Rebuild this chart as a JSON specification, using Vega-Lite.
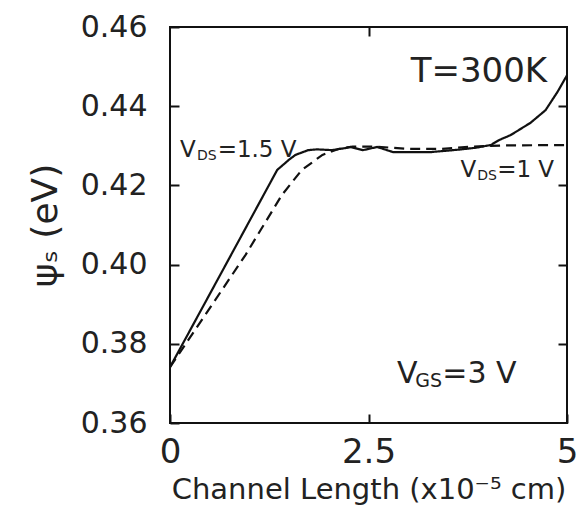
{
  "$schema": "https://vega.github.io/schema/vega-lite/v6.json",
  "autosize": {"type": "none"},
  "padding": {"left": 170, "top": 27, "right": 13, "bottom": 87},
  "width": 397,
  "height": 396,
  "background": "white",
  "config": {
    "font": "DejaVu Sans",
    "view": {"stroke": "#111", "strokeWidth": 2},
    "axis": {
      "grid": false,
      "domain": false,
      "ticks": true,
      "tickColor": "#111",
      "tickOpacity": 1,
      "tickWidth": 2,
      "tickSize": 9,
      "offset": -9,
      "labelColor": "#222",
      "titleColor": "#222",
      "labelFont": "DejaVu Sans",
      "titleFont": "DejaVu Sans",
      "titleFontWeight": "normal"
    }
  },
  "datasets": {
    "curves": [
      {"x": 0, "y": 0.3741, "s": "VDS=1.5 V"},
      {"x": 0.73, "y": 0.401, "s": "VDS=1.5 V"},
      {"x": 1.35, "y": 0.4239, "s": "VDS=1.5 V"},
      {"x": 1.5, "y": 0.4265, "s": "VDS=1.5 V"},
      {"x": 1.58, "y": 0.4277, "s": "VDS=1.5 V"},
      {"x": 1.74, "y": 0.4289, "s": "VDS=1.5 V"},
      {"x": 1.85, "y": 0.4291, "s": "VDS=1.5 V"},
      {"x": 2.04, "y": 0.4289, "s": "VDS=1.5 V"},
      {"x": 2.2, "y": 0.4294, "s": "VDS=1.5 V"},
      {"x": 2.27, "y": 0.4297, "s": "VDS=1.5 V"},
      {"x": 2.43, "y": 0.4289, "s": "VDS=1.5 V"},
      {"x": 2.61, "y": 0.4297, "s": "VDS=1.5 V"},
      {"x": 2.81, "y": 0.4284, "s": "VDS=1.5 V"},
      {"x": 3.0, "y": 0.4284, "s": "VDS=1.5 V"},
      {"x": 3.28, "y": 0.4284, "s": "VDS=1.5 V"},
      {"x": 3.62, "y": 0.429, "s": "VDS=1.5 V"},
      {"x": 3.85, "y": 0.4295, "s": "VDS=1.5 V"},
      {"x": 4.04, "y": 0.4302, "s": "VDS=1.5 V"},
      {"x": 4.15, "y": 0.4315, "s": "VDS=1.5 V"},
      {"x": 4.29, "y": 0.4327, "s": "VDS=1.5 V"},
      {"x": 4.54, "y": 0.4358, "s": "VDS=1.5 V"},
      {"x": 4.73, "y": 0.439, "s": "VDS=1.5 V"},
      {"x": 4.88, "y": 0.4436, "s": "VDS=1.5 V"},
      {"x": 5.0, "y": 0.4478, "s": "VDS=1.5 V"},
      {"x": 0, "y": 0.3741, "s": "VDS=1 V"},
      {"x": 0.95, "y": 0.4024, "s": "VDS=1 V"},
      {"x": 1.41, "y": 0.4176, "s": "VDS=1 V"},
      {"x": 1.66, "y": 0.4239, "s": "VDS=1 V"},
      {"x": 1.92, "y": 0.4277, "s": "VDS=1 V"},
      {"x": 2.12, "y": 0.4292, "s": "VDS=1 V"},
      {"x": 2.3, "y": 0.4298, "s": "VDS=1 V"},
      {"x": 2.6, "y": 0.4298, "s": "VDS=1 V"},
      {"x": 3.0, "y": 0.4292, "s": "VDS=1 V"},
      {"x": 3.4, "y": 0.4292, "s": "VDS=1 V"},
      {"x": 3.8, "y": 0.4298, "s": "VDS=1 V"},
      {"x": 4.2, "y": 0.4301, "s": "VDS=1 V"},
      {"x": 5.0, "y": 0.4302, "s": "VDS=1 V"}
    ]
  },
  "layer": [
    {
      "data": {"name": "curves"},
      "mark": {"type": "line", "color": "#111", "strokeWidth": 2.2, "clip": true},
      "encoding": {
        "x": {
          "field": "x", "type": "quantitative",
          "scale": {"domain": [0, 5], "nice": false, "zero": false},
          "axis": {
            "orient": "bottom",
            "values": [0, 2.5, 5],
            "format": ".2~g",
            "labelFontSize": 34,
            "labelPadding": 12,
            "labelFlush": false,
            "labelBound": false,
            "labelOverlap": false,
            "title": "Channel Length (x10⁻⁵ cm)",
            "titleFontSize": 29,
            "titlePadding": 6
          }
        },
        "y": {
          "field": "y", "type": "quantitative",
          "scale": {"domain": [0.36, 0.46], "nice": false, "zero": false},
          "axis": {
            "orient": "left",
            "values": [0.36, 0.38, 0.40, 0.42, 0.44, 0.46],
            "format": ".2f",
            "labelFontSize": 30,
            "labelPadding": 23,
            "labelFlush": false,
            "labelBound": false,
            "labelOverlap": false,
            "title": "ψₛ (eV)",
            "titleFontSize": 36,
            "titlePadding": 16
          }
        },
        "strokeDash": {
          "field": "s", "type": "nominal",
          "scale": {"domain": ["VDS=1.5 V", "VDS=1 V"], "range": [[1, 0], [10, 6]]},
          "legend": null
        }
      }
    },
    {
      "data": {"values": [{"x": 4.75, "y": 0.4461, "t": "T=300K"}]},
      "mark": {"type": "text", "align": "right", "baseline": "alphabetic", "fontSize": 34, "color": "#222"},
      "encoding": {
        "x": {
          "field": "x", "type": "quantitative",
          "scale": {"domain": [0, 5], "nice": false, "zero": false},
          "axis": {"orient": "top", "values": [2.5], "labels": false, "title": null}
        },
        "y": {
          "field": "y", "type": "quantitative",
          "scale": {"domain": [0.36, 0.46], "nice": false, "zero": false},
          "axis": {"orient": "right", "values": [0.38, 0.40, 0.42, 0.44], "labels": false, "title": null}
        },
        "text": {"field": "t"}
      }
    },
    {
      "data": {"values": [
        {"x": 0.126, "y": 0.4272, "t": "V"},
        {"x": 0.6, "y": 0.4272, "t": "=1.5  V"},
        {"x": 3.66, "y": 0.4221, "t": "V"},
        {"x": 4.12, "y": 0.4221, "t": "=1  V"}
      ]},
      "mark": {"type": "text", "align": "left", "baseline": "alphabetic", "fontSize": 23, "color": "#222"},
      "encoding": {
        "x": {"field": "x", "type": "quantitative", "axis": null},
        "y": {"field": "y", "type": "quantitative", "axis": null},
        "text": {"field": "t"}
      }
    },
    {
      "data": {"values": [
        {"x": 0.34, "y": 0.4264, "t": "DS"},
        {"x": 3.87, "y": 0.4214, "t": "DS"}
      ]},
      "mark": {"type": "text", "align": "left", "baseline": "alphabetic", "fontSize": 14, "color": "#222"},
      "encoding": {
        "x": {"field": "x", "type": "quantitative", "axis": null},
        "y": {"field": "y", "type": "quantitative", "axis": null},
        "text": {"field": "t"}
      }
    },
    {
      "data": {"values": [
        {"x": 2.86, "y": 0.3701, "t": "V"},
        {"x": 3.43, "y": 0.3701, "t": "=3  V"}
      ]},
      "mark": {"type": "text", "align": "left", "baseline": "alphabetic", "fontSize": 30, "color": "#222"},
      "encoding": {
        "x": {"field": "x", "type": "quantitative", "axis": null},
        "y": {"field": "y", "type": "quantitative", "axis": null},
        "text": {"field": "t"}
      }
    },
    {
      "data": {"values": [
        {"x": 3.09, "y": 0.3691, "t": "GS"}
      ]},
      "mark": {"type": "text", "align": "left", "baseline": "alphabetic", "fontSize": 19, "color": "#222"},
      "encoding": {
        "x": {"field": "x", "type": "quantitative", "axis": null},
        "y": {"field": "y", "type": "quantitative", "axis": null},
        "text": {"field": "t"}
      }
    }
  ],
  "resolve": {"axis": {"x": "independent", "y": "independent"}}
}
